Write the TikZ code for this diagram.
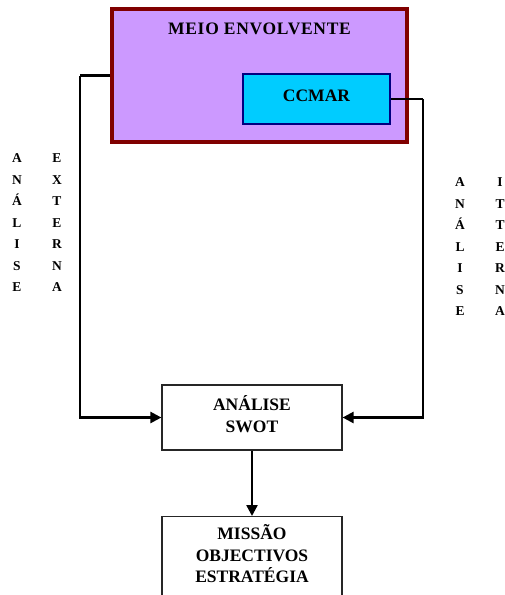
\documentclass[tikz,border=0pt]{standalone}
\usepackage{fontspec}
\setmainfont{Liberation Serif}
\newfontfamily\spacedserif[LetterSpace=4]{Liberation Serif}
\usetikzlibrary{arrows.meta}
\definecolor{lilac}{HTML}{CC99FF}
\definecolor{darkred}{HTML}{800000}
\definecolor{skyc}{HTML}{00CCFF}
\definecolor{navyb}{HTML}{000080}
\tikzset{
  lbl/.style={font=\bfseries\fontsize{17.5}{21.5}\selectfont, align=center, inner sep=0pt},
  vlbl/.style={font=\bfseries\fontsize{13.5}{21.5}\selectfont, align=center, inner sep=0pt},
  conn/.style={line width=2.4pt, -{Triangle[length=11pt,width=11pt]}},
  plain/.style={line width=2.4pt},
  wbox/.style={draw=black!85, line width=1.2pt, fill=white, inner sep=0pt}
}
\begin{document}
\begin{tikzpicture}[x=1pt,y=-1pt]
\useasboundingbox (0,0) rectangle (505,595);
\clip (0,0) rectangle (505,595);
\node[draw=darkred, fill=lilac, line width=3.2pt, minimum width=295pt, minimum height=133pt, inner sep=0pt] (meio) at (259.5,75.5) {};
\node[lbl, font=\spacedserif\bfseries\fontsize{17.5}{21.5}\selectfont] (meiot) at (259.5,29) {MEIO ENVOLVENTE};
\node[draw=navyb, fill=skyc, line width=2.8pt, minimum width=147pt, minimum height=50pt, inner sep=0pt] (ccmar) at (316.5,99) {};
\node[lbl] (ccmart) at (316.5,96) {CCMAR};
\node[wbox, minimum width=180pt, minimum height=65pt] (swot) at (252,417.5) {};
\node[lbl] (swott) at (252,414) {ANÁLISE\\SWOT};
\node[wbox, minimum width=180pt, minimum height=100pt, anchor=north] (missao) at (252,516) {};
\node[lbl] (missaot) at (252,554) {MISSÃO\\OBJECTIVOS\\ESTRATÉGIA};
\coordinate (lc) at (80,75.5);
\coordinate (rc) at (423,99);
\draw[plain] (meio.west) -- (lc);
\draw[conn] (lc) |- (swot.west);
\draw[plain] (ccmar.east) -- (rc);
\draw[conn] (rc) |- (swot.east);
\draw[conn] (swot.south) -- (missao.north);
\node[vlbl] (v1) at (17,223) {A\\N\\Á\\L\\I\\S\\E};
\node[vlbl] (v2) at (57,223) {E\\X\\T\\E\\R\\N\\A};
\node[vlbl] (v3) at (460,247) {A\\N\\Á\\L\\I\\S\\E};
\node[vlbl] (v4) at (500,247) {I\\T\\T\\E\\R\\N\\A};
\end{tikzpicture}
\end{document}
